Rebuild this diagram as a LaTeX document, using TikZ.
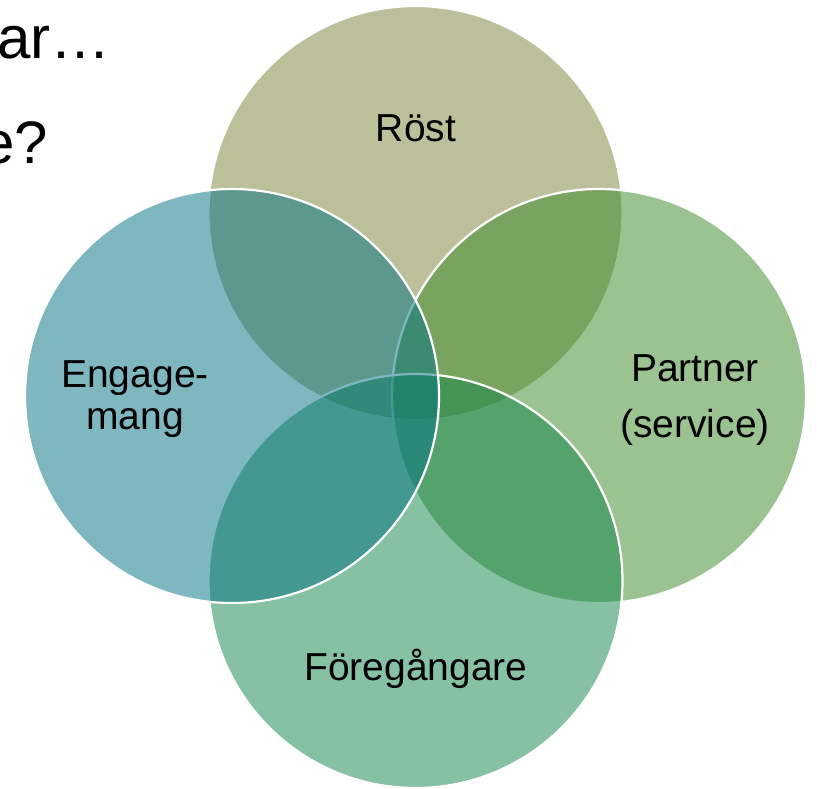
\documentclass[tikz,border=0pt]{standalone}
\usepackage{fontspec}
\setmainfont{Liberation Sans}
\usepackage{xcolor}
\usetikzlibrary{positioning}

\definecolor{rostgreen}{RGB}{121,131,57}
\definecolor{partnergreen}{RGB}{57,137,37}
\definecolor{foregreen}{RGB}{17,133,73}
\definecolor{engageblue}{RGB}{1,113,131}

\begin{document}
\begin{tikzpicture}[
    x=1pt, y=-1pt,
    venn/.style={circle, draw=white, line width=2.2pt, fill opacity=0.5, draw opacity=1, minimum size=414pt, inner sep=0pt},
    label/.style={font=\fontsize{39}{42}\selectfont, align=center, inner sep=0pt, text=black},
    slide/.style={font=\fontsize{60}{66}\selectfont, anchor=base west, inner sep=0pt}
]
\fill[white] (0,0) rectangle (817,788);
\useasboundingbox (0,0) rectangle (817,788);

% slide text behind the diagram
\node[slide] (line1) at (-3,58) {ar…};
\node[slide] (line2) at (-19,163) {e?};

% circles, drawn in this order
\node[venn, fill=rostgreen] (rost) at (415.5,213) {};
\node[venn, fill=partnergreen] (partner) at (599,396) {};
\node[venn, fill=foregreen] (fore) at (415.5,581) {};
\node[venn, fill=engageblue] (engage) at (232,396) {};

\node[label, anchor=base] (rosttext) at (416,141) {Röst};
\node[label] (engagetext) at (135,399) {Engage-\\mang};
\node[label] (partnertext) at (695,400) {Partner\\[14pt](service)};
\node[label, anchor=base] (foretext) at (416,680) {Föregångare};
\end{tikzpicture}
\end{document}
